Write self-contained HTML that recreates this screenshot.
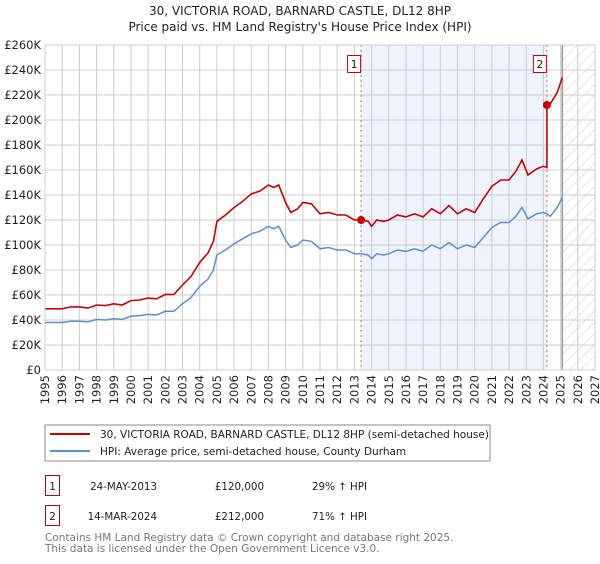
<!DOCTYPE html>
<html><head><meta charset="utf-8"><style>
body{margin:0;background:#fff;font-family:"DejaVu Sans","Liberation Sans",sans-serif;}
svg text{font-family:"DejaVu Sans","Liberation Sans",sans-serif;}
</style></head><body>
<svg id="c" width="600" height="560" xmlns="http://www.w3.org/2000/svg">
<defs><pattern id="hatch" width="8" height="8" patternUnits="userSpaceOnUse" patternTransform="rotate(45)"><line x1="0" y1="0" x2="0" y2="8" stroke="#ccc" stroke-width="1"/></pattern></defs>
<text x="300" y="15" text-anchor="middle" font-size="12" fill="#222">30, VICTORIA ROAD, BARNARD CASTLE, DL12 8HP</text>
<text x="300" y="31" text-anchor="middle" font-size="12" fill="#222">Price paid vs. HM Land Registry's House Price Index (HPI)</text>
<g id="plot"></g>
<rect x="45" y="425" width="445" height="36" fill="#fff" stroke="#888"/>
<line x1="50" y1="434" x2="90" y2="434" stroke="#cc0000" stroke-width="2"/>
<text x="100" y="438" font-size="10.5" fill="#222">30, VICTORIA ROAD, BARNARD CASTLE, DL12 8HP (semi-detached house)</text>
<line x1="50" y1="451" x2="90" y2="451" stroke="#5b8fd4" stroke-width="2"/>
<text x="100" y="455" font-size="10.5" fill="#222">HPI: Average price, semi-detached house, County Durham</text>
<g>
<rect x="45.5" y="475.5" width="14" height="20" fill="#fff" stroke="#cc0000"/>
<text x="52.5" y="490" text-anchor="middle" font-size="10.3" fill="#222">1</text>
<text x="157" y="490" text-anchor="end" font-size="10.3" fill="#222">24-MAY-2013</text>
<text x="264" y="490" text-anchor="end" font-size="10.3" fill="#222">£120,000</text>
<text x="312" y="490" font-size="10.3" fill="#222">29% ↑ HPI</text></g>
<g>
<rect x="45.5" y="505.5" width="14" height="20" fill="#fff" stroke="#cc0000"/>
<text x="52.5" y="520" text-anchor="middle" font-size="10.3" fill="#222">2</text>
<text x="157" y="520" text-anchor="end" font-size="10.3" fill="#222">14-MAR-2024</text>
<text x="264" y="520" text-anchor="end" font-size="10.3" fill="#222">£212,000</text>
<text x="312" y="520" font-size="10.3" fill="#222">71% ↑ HPI</text></g>
<text x="45" y="541" font-size="10.5" fill="#777">Contains HM Land Registry data © Crown copyright and database right 2025.</text>
<text x="45" y="552" font-size="10.5" fill="#777">This data is licensed under the Open Government Licence v3.0.</text>
</svg>
<script>
const dates=[1995,1995.5,1996,1996.5,1997,1997.5,1998,1998.5,1999,1999.5,2000,2000.5,2001,2001.5,2002,2002.5,2003,2003.5,2004,2004.5,2004.8,2005,2005.5,2006,2006.5,2007,2007.5,2008,2008.3,2008.6,2009,2009.3,2009.7,2010,2010.5,2011,2011.5,2012,2012.5,2013,2013.4,2013.8,2014,2014.3,2014.7,2015,2015.5,2016,2016.5,2017,2017.5,2018,2018.5,2019,2019.5,2020,2020.5,2021,2021.5,2022,2022.4,2022.75,2023.1,2023.6,2024.0,2024.2,2024.4,2024.8,2025.1];
const hpiValues=[38,38,38,39,39,38.5,40.5,40,41,40.5,43,43.5,44.5,44,47,47,53,58,67,73,80,92,96,101,105,109,111,115,113,115,104,98,100,104,103,97,98,96,96,93,93,92,89,93,92,93,96,95,97,95,100,97,102,97,100,98,106,114,118,118,123,130,121,125,126,125,123,130,138];
const priceDates=[1995,1995.5,1996,1996.5,1997,1997.5,1998,1998.5,1999,1999.5,2000,2000.5,2001,2001.5,2002,2002.5,2003,2003.5,2004,2004.5,2004.8,2005,2005.5,2006,2006.5,2007,2007.5,2008,2008.3,2008.6,2009,2009.3,2009.7,2010,2010.5,2011,2011.5,2012,2012.5,2013,2013.4,2013.8,2014,2014.3,2014.7,2015,2015.5,2016,2016.5,2017,2017.5,2018,2018.5,2019,2019.5,2020,2020.5,2021,2021.5,2022,2022.4,2022.75,2023.1,2023.6,2024.0,2024.2,2024.2,2024.4,2024.8,2025.1];
const priceValues=[49,49,49,50.5,50.5,49.5,52,51.5,53,52,55.5,56,57.5,57,60.5,60.5,68,75,86,94,103,119,124,130,135,141,143,148,146,148,134,126,129,134,133,125,126,124,124,120,120,119,115,120,119,120,124,122.5,125,122.5,129,125,131.5,125,129,126,137,147,152,152,159,168,156,161,163,162,212,213,222,234];
const saleDates=[2013.39,2024.2];
const saleValues=[120,212];
const saleLabels=["1","2"];
const yTicks=[0,20,40,60,80,100,120,140,160,180,200,220,240,260];
const xYears=[1995,1996,1997,1998,1999,2000,2001,2002,2003,2004,2005,2006,2007,2008,2009,2010,2011,2012,2013,2014,2015,2016,2017,2018,2019,2020,2021,2022,2023,2024,2025,2026,2027];
const dataEnd=2025.1;
const NS="http://www.w3.org/2000/svg";
const L=45,R=595,T=45,B=370;
const xs=d=>L+(d-1995)/(2027-1995)*(R-L);
const ys=v=>B-v/260*(B-T);
const g=document.getElementById('plot');
function mk(tag,a){const e=document.createElementNS(NS,tag);for(const k in a)e.setAttribute(k,a[k]);g.appendChild(e);return e;}
let e;
e=mk('rect',{x:xs(saleDates[0]),y:T,width:xs(saleDates[1])-xs(saleDates[0]),height:B-T,fill:'#eef3fd'});


e=mk('rect',{x:xs(dataEnd),y:T,width:R-xs(dataEnd),height:B-T,fill:'url(#hatch)'});


yTicks.forEach(v=>{
 e=mk('line',{x1:L,x2:R,y1:ys(v),y2:ys(v),stroke:'#ccc','stroke-width':1});
 
 
 e=mk('text',{x:L-4,y:ys(v)+4,'text-anchor':'end','font-size':11.5,fill:'#222'});
 e.textContent=v===0?'£0':'£'+v+'K';
 
 
});
xYears.forEach(y=>{
 e=mk('line',{x1:xs(y),x2:xs(y),y1:T,y2:B,stroke:'#ccc','stroke-width':1});
 
 
 e=mk('text',{x:0,y:0,'text-anchor':'end','font-size':11.5,fill:'#222',transform:`translate(${xs(y)+4},${B+5}) rotate(-90)`});
 e.textContent=y;
 
 
});
e=mk('line',{x1:xs(dataEnd),x2:xs(dataEnd),y1:T,y2:B,stroke:'#999','stroke-width':1.5});


saleDates.forEach((d,i)=>{
 e=mk('line',{x1:xs(d),x2:xs(d),y1:T,y2:B,stroke:'#e06060','stroke-width':1,'stroke-dasharray':'2,3'});
 
 
 e=mk('rect',{x:xs(d)-13.5,y:55.5,width:13,height:17,fill:'#fff',stroke:'#cc0000'});
 
 
 e=mk('text',{x:xs(d)-7,y:68,'text-anchor':'middle','font-size':11,fill:'#222'});
 e.textContent=saleLabels[i];
 
 
});
e=mk('path',{d:dates.map((d,i)=>(i?'L':'M')+xs(d).toFixed(1)+','+ys(hpiValues[i]).toFixed(1)).join(''),fill:'none',stroke:'#5b8fd4','stroke-width':1.5});


e=mk('path',{d:priceDates.map((d,i)=>(i?'L':'M')+xs(d).toFixed(1)+','+ys(priceValues[i]).toFixed(1)).join(''),fill:'none',stroke:'#cc0000','stroke-width':1.6});


saleDates.forEach((d,i)=>{
 e=mk('circle',{cx:xs(d),cy:ys(saleValues[i]),r:4,fill:'#cc0000'});
 
 
});
e=mk('rect',{x:L,y:T,width:R-L,height:B-T,fill:'none',stroke:'#ccc'});


</script>
</body></html>
